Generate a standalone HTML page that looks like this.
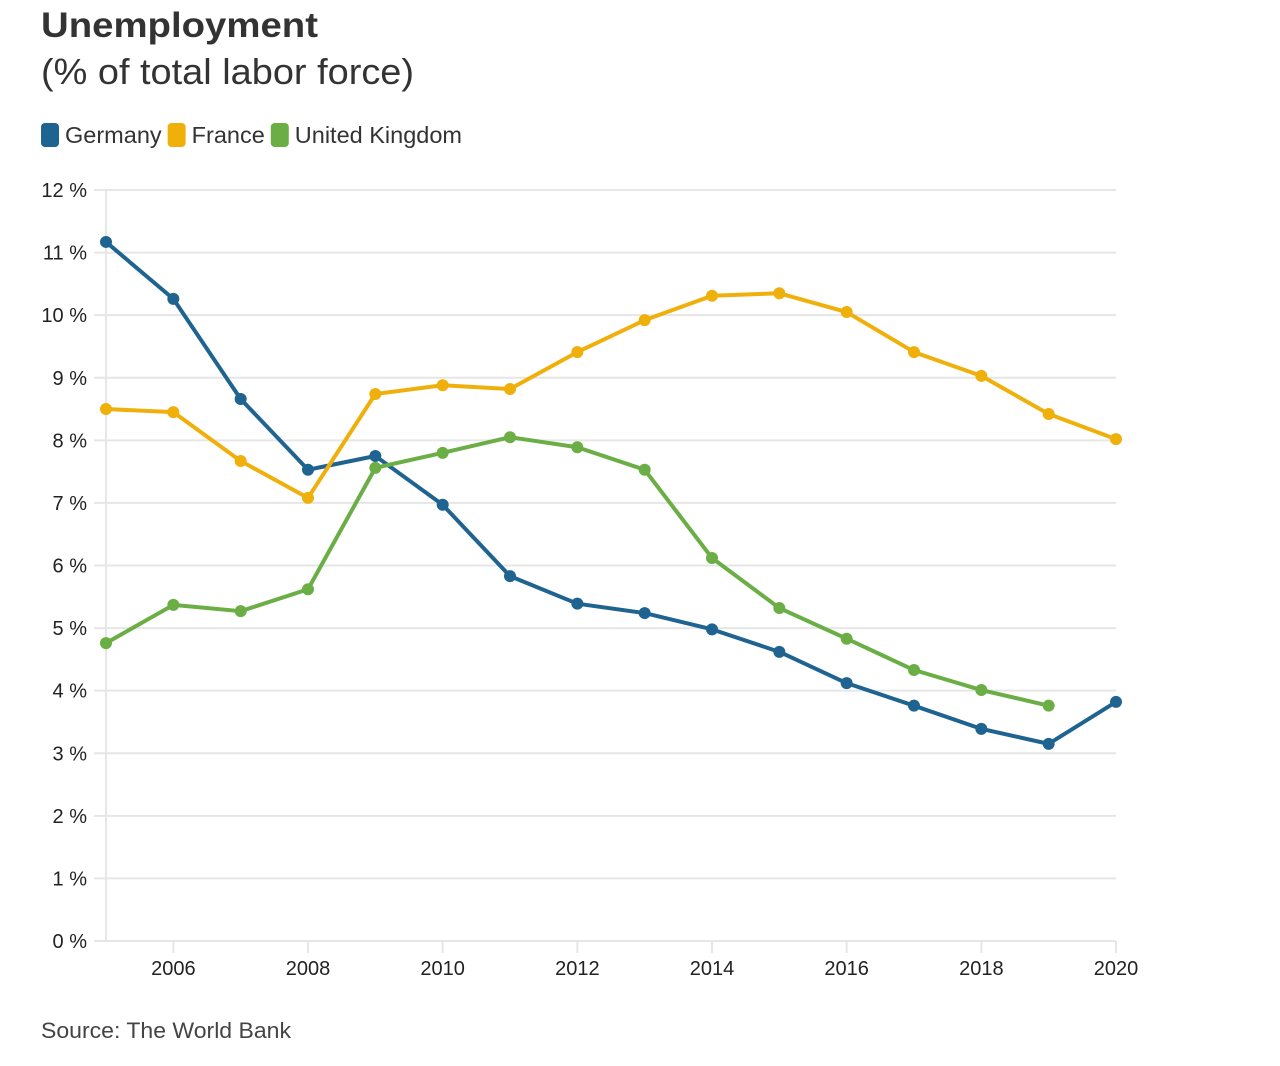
<!DOCTYPE html>
<html><head><meta charset="utf-8"><style>
body{margin:0;background:#fff;font-family:"Liberation Sans",sans-serif;}
svg text{font-family:"Liberation Sans",sans-serif;}
</style></head><body>
<svg width="1280" height="1061" xmlns="http://www.w3.org/2000/svg">
<text x="41" y="37" font-size="35" font-weight="bold" fill="#333" textLength="277" lengthAdjust="spacingAndGlyphs">Unemployment</text>
<text x="41" y="84" font-size="36" fill="#333" textLength="373" lengthAdjust="spacingAndGlyphs">(% of total labor force)</text>
<g id="legend"></g>
<g id="grid"></g>
<g id="series"></g>
<text x="41" y="1038" font-size="22" fill="#444" textLength="250" lengthAdjust="spacingAndGlyphs">Source: The World Bank</text>
</svg>
<script>
const years=[2005,2006,2007,2008,2009,2010,2011,2012,2013,2014,2015,2016,2017,2018,2019,2020];
const germany=[11.17,10.26,8.66,7.53,7.75,6.97,5.83,5.39,5.24,4.98,4.62,4.12,3.76,3.39,3.15,3.82];
const france=[8.50,8.45,7.67,7.08,8.74,8.88,8.82,9.41,9.92,10.31,10.35,10.05,9.41,9.03,8.42,8.02];
const uk=[4.76,5.37,5.27,5.62,7.56,7.80,8.05,7.89,7.53,6.12,5.32,4.83,4.33,4.01,3.76];
const yTicks=[0,1,2,3,4,5,6,7,8,9,10,11,12];
const xTicks=[2006,2008,2010,2012,2014,2016,2018,2020];
const seriesNames=["Germany","France","United Kingdom"];

const NS="http://www.w3.org/2000/svg";
const x=v=>106+(v-2005)*(1010/15);
const y=v=>941-v*(751/12);
function mk(t,a,p){const e=document.createElementNS(NS,t);for(const k in a)e.setAttribute(k,a[k]);p.appendChild(e);return e;}
const grid=document.getElementById('grid');
yTicks.forEach(t=>{
  const l=mk('line',{x1:94,x2:1116,y1:y(t),y2:y(t),stroke:'#e6e6e6','stroke-width':2},grid);
  
  
  const tx=mk('text',{x:87,y:y(t)+7,'text-anchor':'end','font-size':20,fill:'#222'},grid);
  tx.textContent=t+' %';
  
  
});
const ax=mk('line',{x1:106,x2:106,y1:190,y2:941,stroke:'#e6e6e6','stroke-width':2},grid);


xTicks.forEach(t=>{
  const l=mk('line',{x1:x(t),x2:x(t),y1:941,y2:953,stroke:'#e6e6e6','stroke-width':2},grid);
  
  
  const tx=mk('text',{x:x(t),y:975,'text-anchor':'middle','font-size':20,fill:'#222'},grid);
  tx.textContent=t;
  
  
});
const colors=['#1f6391','#f0b00c','#6aae45'];
const sg=document.getElementById('series');
[germany,france,uk].forEach((d,i)=>{
  const g=mk('g',{},sg);
  
  
  const pts=d.map((v,j)=>x(years[j])+','+y(v)).join(' ');
  const pl=mk('polyline',{points:pts,fill:'none',stroke:colors[i],'stroke-width':4,'stroke-linejoin':'round'},g);
  
  
  d.forEach((v,j)=>{
    const c=mk('circle',{cx:x(years[j]),cy:y(v),r:6,fill:colors[i]},g);
    
    
  });
});
const lg=document.getElementById('legend');
let lx=41;
seriesNames.forEach((n,i)=>{
  const r=mk('rect',{x:lx,y:123,width:18,height:24,rx:4,fill:colors[i]},lg);
  
  
  const t=mk('text',{x:lx+24,y:143,'font-size':23.5,fill:'#333'},lg);
  t.textContent=n;
  
  
  lx+=24+t.getComputedTextLength()+6;
});
</script>
</body></html>
